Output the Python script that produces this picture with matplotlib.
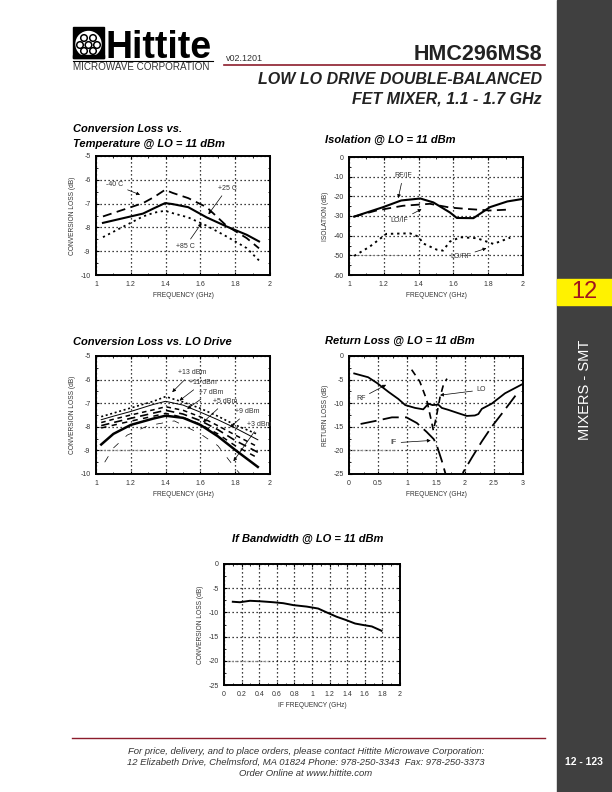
import matplotlib
matplotlib.use("Agg")
import matplotlib.pyplot as plt
from matplotlib.patches import Rectangle, Circle
from matplotlib.ticker import AutoMinorLocator

W, H = 612, 792

# ---------------- data ----------------
# Chart 1: Conversion loss vs temperature
freq_t = [1.04, 1.27, 1.335, 1.397, 1.44, 1.53, 1.636, 1.75, 1.866, 1.937]
cl_p25 = [-7.81, -7.42, -7.19, -6.98, -7.02, -7.15, -7.58, -7.96, -8.31, -8.59]
cl_m40 = [-7.54, -6.98, -6.72, -6.42, -6.55, -6.77, -7.15, -7.93, -8.45, -8.88]
cl_p85 = [-8.41, -7.54, -7.38, -7.30, -7.40, -7.58, -7.93, -8.38, -8.87, -9.39]

# Chart 2: Isolation
iso_f_rfif = [1.03, 1.196, 1.30, 1.41, 1.485, 1.58, 1.62, 1.715, 1.81, 1.91, 2.0]
iso_rfif = [-30.3, -25.5, -22.1, -21.1, -23.1, -28.2, -31.0, -31.1, -25.5, -22.6, -21.3]
iso_f_loif = [1.03, 1.158, 1.31, 1.465, 1.58, 1.677, 1.81, 1.927]
iso_loif = [-30.3, -27.2, -24.8, -23.8, -25.7, -26.4, -27.2, -26.7]
iso_f_lorf = [1.03, 1.119, 1.215, 1.35, 1.40, 1.425, 1.504, 1.54, 1.58, 1.64, 1.735, 1.83, 1.927]
iso_lorf = [-50.3, -45.6, -39.1, -38.8, -40.5, -43.9, -47.1, -47.6, -43.0, -40.8, -41.3, -44.2, -41.0]

# Chart 3: Conversion loss vs LO drive
freq_lo = [1.03, 1.1, 1.2, 1.33, 1.4, 1.5, 1.6, 1.7, 1.8, 1.93]
lo_13dbm = [-7.57, -7.42, -7.20, -6.92, -6.72, -6.95, -7.22, -7.55, -7.92, -8.32]
lo_11dbm = [-7.70, -7.55, -7.35, -7.05, -6.92, -7.08, -7.38, -7.70, -8.05, -8.55]
lo_9dbm = [-7.82, -7.68, -7.50, -7.28, -7.15, -7.30, -7.58, -7.95, -8.35, -8.85]
lo_7dbm = [-7.95, -7.82, -7.64, -7.42, -7.30, -7.46, -7.74, -8.12, -8.58, -9.08]
lo_5dbm = [-8.05, -7.93, -7.76, -7.55, -7.43, -7.60, -7.90, -8.30, -8.80, -9.32]
lo_3dbm = [-8.75, -8.30, -7.92, -7.65, -7.53, -7.62, -7.92, -8.40, -8.98, -9.70]
freq_lo_low = [1.05, 1.1, 1.18, 1.3, 1.45, 1.6, 1.7, 1.8, 1.85]
lo_low = [-9.5, -8.9, -8.35, -7.95, -7.75, -8.3, -8.8, -9.75, -10.2]

# Chart 4: Return loss
rl_f_rf = [0.09, 0.33, 0.48, 0.68, 0.85, 0.97, 1.14, 1.28, 1.34, 1.37, 1.44, 1.54, 1.60,
           1.71, 1.88, 2.03, 2.17, 2.23, 2.29, 2.46, 2.69, 3.0]
rl_rf = [-3.7, -4.5, -5.7, -7.6, -9.1, -10.4, -11.0, -11.3, -10.5, -10.1, -10.4, -10.3, -11.0,
         -11.4, -12.1, -12.7, -12.6, -12.3, -11.2, -10.1, -7.9, -5.9]
rl_f_lo = [1.08, 1.22, 1.34, 1.41, 1.455, 1.51, 1.57, 1.63, 1.69]
rl_lo = [-2.9, -5.4, -9.3, -13.2, -15.8, -12.6, -8.7, -6.0, -4.8]
rl_f_if = [0.2, 0.48, 0.74, 0.99, 1.17, 1.34, 1.46, 1.51, 1.60, 1.66, 1.72, 1.82,
           1.92, 1.97, 2.12, 2.29, 2.46, 2.63, 2.87]
rl_if = [-14.4, -13.7, -13.0, -13.0, -14.2, -16.1, -17.6, -18.8, -22.2, -24.8, -27.5, -30.0,
         -27.5, -24.6, -21.5, -18.1, -15.0, -12.3, -8.4]

# Chart 5: IF bandwidth
if_freq = [0.10, 0.18, 0.295, 0.41, 0.56, 0.674, 0.79, 0.94, 1.07, 1.167, 1.28, 1.39,
           1.49, 1.58, 1.68, 1.79]
if_cl = [-7.8, -7.9, -7.6, -7.7, -7.9, -8.1, -8.5, -8.8, -9.2, -10.0, -10.9, -11.6,
         -12.3, -12.6, -12.9, -13.8]

# faint grey reference traces (level, x-start, x-end)
ref_iso = (-50, 1.02, 1.30)
ref_lo = (-9, 1.02, 1.27)
ref_rl = (-20, 0.0, 0.80)
ref_if = (-20, 0.03, 0.52)

# tick labels
ticks_f12 = [1, 1.2, 1.4, 1.6, 1.8, 2]
labels_f12 = ["1", "1.2", "1.4", "1.6", "1.8", "2"]
ticks_rl = [0, 0.5, 1, 1.5, 2, 2.5, 3]
labels_rl = ["0", "0.5", "1", "1.5", "2", "2.5", "3"]
ticks_if = [0, 0.2, 0.4, 0.6, 0.8, 1, 1.2, 1.4, 1.6, 1.8, 2]
labels_if = ["0", "0.2", "0.4", "0.6", "0.8", "1", "1.2", "1.4", "1.6", "1.8", "2"]

# ---------------- figure ----------------
SANS = ["Liberation Sans", "DejaVu Sans"]
plt.rcParams['font.family'] = SANS
fig = plt.figure(figsize=(W / 100, H / 100), dpi=100)
fig.patch.set_facecolor("white")

def box(x0, y0, x1, y1):
    return [x0 / W, 1 - y1 / H, (x1 - x0) / W, (y1 - y0) / H]

def ftext(x, y, s, **kw):
    return fig.text(x / W, 1 - y / H, s, **kw)

DARKRED = "#8c1c2c"
TXT = "#333333"

def style_ax(ax, xlim, ylim, xticks, xlabels, yticks, xlabel, ylabel):
    ax.set_xlim(*xlim)
    ax.set_ylim(*ylim)
    ax.set_xticks(xticks)
    ax.set_xticklabels(xlabels)
    ax.set_yticks(yticks)
    ax.set_yticklabels([f"{v:g}" for v in yticks])
    ax.grid(True, color="black", linestyle=(0, (1, 2.2)), linewidth=0.9)
    for s in ax.spines.values():
        s.set_linewidth(1.4)
    ax.xaxis.set_minor_locator(AutoMinorLocator(2))
    ax.yaxis.set_minor_locator(AutoMinorLocator(2))
    ax.tick_params(which="major", direction="in", length=2.5, width=0.8,
                   top=True, right=True, labelsize=5, labelcolor=TXT, pad=4)
    ax.tick_params(which="minor", direction="in", length=1.5, width=0.6,
                   top=True, right=True)
    ax.set_xlabel(xlabel, fontsize=4.8, color=TXT, labelpad=3)
    ax.set_ylabel(ylabel, fontsize=4.8, color=TXT, labelpad=3)

def arrow(ax, text, xytext, xy, ha="left"):
    ax.annotate(text, xy=xy, xytext=xytext, fontsize=5, color=TXT, ha=ha, va="center",
                arrowprops=dict(arrowstyle="-|>", lw=0.5, color="black",
                                mutation_scale=5, shrinkA=1, shrinkB=0))

# ---- Chart 1
ax1 = fig.add_axes(box(96, 156, 270, 275))
style_ax(ax1, (1, 2), (-10, -5), ticks_f12, labels_f12, [-10, -9, -8, -7, -6, -5],
         "FREQUENCY (GHz)", "CONVERSION LOSS (dB)")
ax1.plot(freq_t, cl_p25, color="black", lw=1.5)
ax1.plot(freq_t, cl_m40, color="black", lw=1.3, dashes=(5, 3))
ax1.plot(freq_t, cl_p85, color="black", lw=1.3, dashes=(1.2, 2))
arrow(ax1, "-40 C", (1.06, -6.21), (1.253, -6.63))
arrow(ax1, "+25 C", (1.70, -6.36), (1.646, -7.45))
arrow(ax1, "+85 C", (1.46, -8.8), (1.607, -7.82))

# ---- Chart 2
ax2 = fig.add_axes(box(349, 157, 523, 275))
style_ax(ax2, (1, 2), (-60, 0), ticks_f12, labels_f12, [-60, -50, -40, -30, -20, -10, 0],
         "FREQUENCY (GHz)", "ISOLATION (dB)")
ax2.axhline(ref_iso[0], xmin=ref_iso[1] - 1, xmax=ref_iso[2] - 1, color="#888888",
            lw=0.6, linestyle=(0, (1, 1)))
ax2.plot(iso_f_rfif, iso_rfif, color="black", lw=1.5)
ax2.plot(iso_f_loif, iso_loif, color="black", lw=1.3, dashes=(5, 3))
ax2.plot(iso_f_lorf, iso_lorf, color="black", lw=1.4, dashes=(1.2, 2))
arrow(ax2, "RF/IF", (1.26, -9.5), (1.283, -20.9))
arrow(ax2, "LO/IF", (1.24, -32.3), (1.417, -26.5))
arrow(ax2, "LO/RF", (1.58, -50.7), (1.79, -46.4))

# ---- Chart 3
ax3 = fig.add_axes(box(96, 356, 270, 474))
style_ax(ax3, (1, 2), (-10, -5), ticks_f12, labels_f12, [-10, -9, -8, -7, -6, -5],
         "FREQUENCY (GHz)", "CONVERSION LOSS (dB)")
ax3.axhline(ref_lo[0], xmin=ref_lo[1] - 1, xmax=ref_lo[2] - 1, color="#999999",
            lw=0.9, linestyle=(0, (1, 1)))
ax3.plot(freq_lo, lo_13dbm, color="black", lw=1.2, dashes=(1.2, 1.6))
ax3.plot(freq_lo, lo_11dbm, color="black", lw=0.7)
ax3.plot(freq_lo, lo_9dbm, color="black", lw=1.1, dashes=(3, 2.5))
ax3.plot(freq_lo, lo_7dbm, color="black", lw=1.2, dashes=(5, 3))
ax3.plot(freq_lo, lo_5dbm, color="black", lw=1.1, dashes=(3.5, 3.5))
ax3.plot(freq_lo, lo_3dbm, color="black", lw=1.8)
ax3.plot(freq_lo_low, lo_low, color="black", lw=0.5, dashes=(10, 14))
arrow(ax3, "+13 dBm", (1.47, -5.7), (1.438, -6.53))
arrow(ax3, "+11 dBm", (1.535, -6.13), (1.48, -6.89))
arrow(ax3, "+7 dBm", (1.59, -6.53), (1.524, -7.24))
arrow(ax3, "+5 dBm", (1.675, -6.93), (1.615, -7.81))
arrow(ax3, "+9 dBm", (1.80, -7.36), (1.771, -8.03))
arrow(ax3, "+3 dBm", (1.87, -7.89), (1.79, -9.46))

# ---- Chart 4
ax4 = fig.add_axes(box(349, 356, 523, 474))
style_ax(ax4, (0, 3), (-25, 0), ticks_rl, labels_rl, [-25, -20, -15, -10, -5, 0],
         "FREQUENCY (GHz)", "RETURN LOSS (dB)")
ax4.axhline(ref_rl[0], xmin=ref_rl[1] / 3, xmax=ref_rl[2] / 3, color="#999999",
            lw=0.9, linestyle=(0, (1, 1)))
ax4.plot(rl_f_rf, rl_rf, color="black", lw=1.3)
ax4.plot(rl_f_lo, rl_lo, color="black", lw=1.2, dashes=(4, 3))
ax4.plot(rl_f_if, rl_if, color="black", lw=1.3, dashes=(9, 3.5))
arrow(ax4, "RF", (0.12, -8.95), (0.64, -6.1))
arrow(ax4, "LO", (2.2, -7.2), (1.57, -8.3))
arrow(ax4, "IF", (0.72, -18.4), (1.41, -17.9))

# ---- Chart 5
ax5 = fig.add_axes(box(224, 564, 400, 685))
style_ax(ax5, (0, 2), (-25, 0), ticks_if, labels_if, [-25, -20, -15, -10, -5, 0],
         "IF FREQUENCY (GHz)", "CONVERSION LOSS (dB)")
ax5.axhline(ref_if[0], xmin=ref_if[1] / 2, xmax=ref_if[2] / 2, color="#999999",
            lw=0.9, linestyle=(0, (1, 1)))
ax5.plot(if_freq, if_cl, color="black", lw=1.4)

# ---- chart titles
tkw = dict(fontsize=8, fontweight="bold", fontstyle="italic", color="black",
           family=SANS, va="baseline")
ftext(73, 132, "Conversion Loss vs.", **tkw)
ftext(73, 147, "Temperature @ LO = 11 dBm", **tkw)
ftext(325, 143, "Isolation @ LO = 11 dBm", **tkw)
ftext(73, 345, "Conversion Loss vs. LO Drive", **tkw)
ftext(325, 344, "Return Loss @ LO = 11 dBm", **tkw)
ftext(232, 542, "If Bandwidth @ LO = 11 dBm", **tkw)

# ---------------- header ----------------
ov = fig.add_axes([0, 0, 1, 1], zorder=-1)
ov.set_xlim(0, W)
ov.set_ylim(H, 0)
ov.axis("off")
# logo emblem
ov.add_patch(Rectangle((73, 27), 31, 31, color="black"))
ov.add_patch(Circle((88.5, 44), 12.5, color="white"))
for cx, cy in [(84, 38), (93, 38), (80, 45), (88.5, 45), (97, 45), (84, 51), (93, 51)]:
    ov.add_patch(Circle((cx, cy), 3.3, fill=False, ec="black", lw=1.1))
ov.add_patch(Rectangle((73, 55), 31, 3, color="black"))
ftext(105, 57.5, "Hittite", fontsize=27, fontweight="bold", color="black",
      family=["Liberation Sans"], va="baseline")
ov.plot([73, 213], [60.5, 60.5], color="black", lw=0.8)
ftext(73, 69.5, "MICROWAVE CORPORATION", fontsize=7.1, color=TXT, va="baseline")
ftext(226, 61, "v02.1201", fontsize=6.5, color=TXT, va="baseline")
ftext(542, 60, "HMC296MS8", fontsize=15.5, fontweight="bold", color="#222222",
      ha="right", va="baseline")
ov.plot([224, 545], [65, 65], color=DARKRED, lw=1.2)
ftext(542, 84, "LOW LO DRIVE DOUBLE-BALANCED", fontsize=11.5, fontweight="bold",
      fontstyle="italic", color="#222222", ha="right", va="baseline")
ftext(542, 103, "FET MIXER, 1.1 - 1.7 GHz", fontsize=11.5, fontweight="bold",
      fontstyle="italic", color="#222222", ha="right", va="baseline")

# ---------------- side bar ----------------
ov.add_patch(Rectangle((557, 0), 55, 792, color="#404040"))
ov.add_patch(Rectangle((557, 279), 55, 26, color="#fff200"))
ftext(584, 292, "12", fontsize=17, color="#a0141e", ha="center", va="center")
ftext(585, 390, "MIXERS - SMT", fontsize=10.5, color="white", ha="center",
      va="center", rotation=90)
ftext(584, 762, "12 - 123", fontsize=7.5, fontweight="bold", color="white",
      ha="center", va="center")

# ---------------- footer ----------------
ov.plot([72, 545], [738, 738], color=DARKRED, lw=1.0)
fkw = dict(fontsize=6.8, fontstyle="italic", color=TXT, ha="center", va="baseline")
ftext(306, 754, "For price, delivery, and to place orders, please contact Hittite Microwave Corporation:", **fkw)
ftext(306, 765, "12 Elizabeth Drive, Chelmsford, MA 01824 Phone: 978-250-3343  Fax: 978-250-3373", **fkw)
ftext(306, 776, "Order Online at www.hittite.com", **fkw)

fig.savefig("out.png", dpi=100)
